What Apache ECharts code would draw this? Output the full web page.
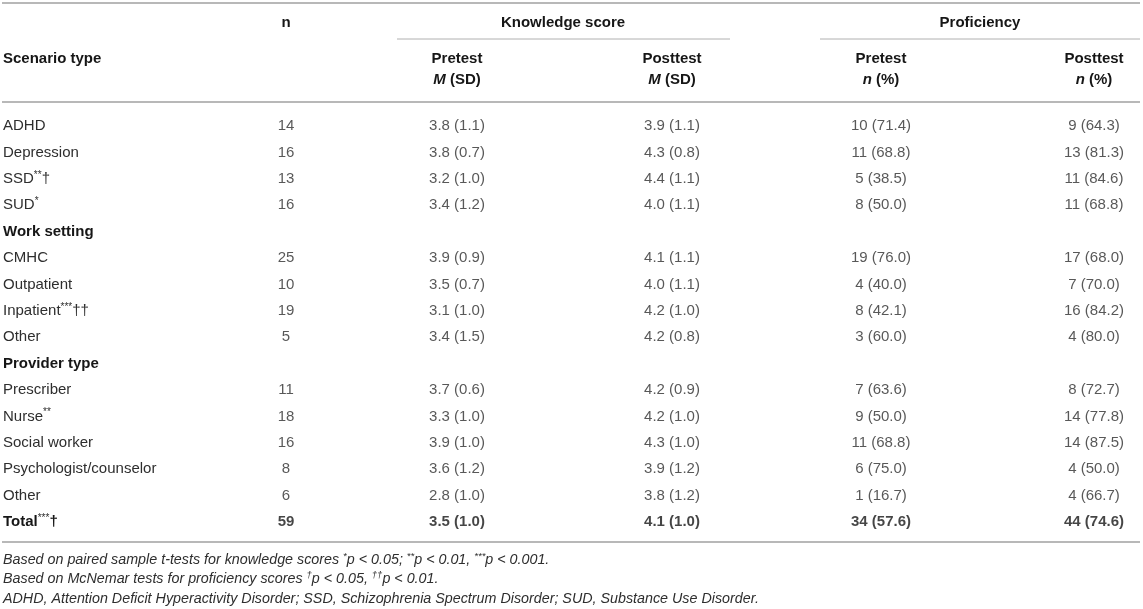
<!DOCTYPE html>
<html>
<head>
<meta charset="utf-8">
<script src="https://cdn.jsdelivr.net/npm/echarts@6/dist/echarts.min.js"></script>
<style>
html, body { margin: 0; padding: 0; background: #fff; }
#main { width: 1143px; height: 609px; }
</style>
</head>
<body>
<div id="main"></div>
<script>
// row labels (stars / daggers are the significance marks)
var rowLabels = ['ADHD', 'Depression', 'SSD**†', 'SUD*', 'Work setting', 'CMHC', 'Outpatient',
  'Inpatient***††', 'Other', 'Provider type', 'Prescriber', 'Nurse**', 'Social worker',
  'Psychologist/counselor', 'Other', 'Total***†'];
var sectionRows = [4, 9];
var totalRow = 15;

var nValues      = [14, 16, 13, 16, null, 25, 10, 19, 5, null, 11, 18, 16, 8, 6, 59];
var knowPreMean  = [3.8, 3.8, 3.2, 3.4, null, 3.9, 3.5, 3.1, 3.4, null, 3.7, 3.3, 3.9, 3.6, 2.8, 3.5];
var knowPreSD    = [1.1, 0.7, 1.0, 1.2, null, 0.9, 0.7, 1.0, 1.5, null, 0.6, 1.0, 1.0, 1.2, 1.0, 1.0];
var knowPostMean = [3.9, 4.3, 4.4, 4.0, null, 4.1, 4.0, 4.2, 4.2, null, 4.2, 4.2, 4.3, 3.9, 3.8, 4.1];
var knowPostSD   = [1.1, 0.8, 1.1, 1.1, null, 1.1, 1.1, 1.0, 0.8, null, 0.9, 1.0, 1.0, 1.2, 1.2, 1.0];
var profPreN     = [10, 11, 5, 8, null, 19, 4, 8, 3, null, 7, 9, 11, 6, 1, 34];
var profPrePct   = [71.4, 68.8, 38.5, 50.0, null, 76.0, 40.0, 42.1, 60.0, null, 63.6, 50.0, 68.8, 75.0, 16.7, 57.6];
var profPostN    = [9, 13, 11, 11, null, 17, 7, 16, 4, null, 8, 14, 14, 4, 4, 44];
var profPostPct  = [64.3, 81.3, 84.6, 68.8, null, 68.0, 70.0, 84.2, 80.0, null, 72.7, 77.8, 87.5, 50.0, 66.7, 74.6];

// layout
var colX = [286, 457, 672, 881, 1094];
var FONT = 'Liberation Sans, Arial, Helvetica, sans-serif';
var TXT = '#2e2e2e';
var BOLD = '#161616';

function cellText(c, i) {
  if (c === 0) return nValues[i] == null ? null : String(nValues[i]);
  if (c === 1) return knowPreMean[i] == null ? null : knowPreMean[i].toFixed(1) + ' (' + knowPreSD[i].toFixed(1) + ')';
  if (c === 2) return knowPostMean[i] == null ? null : knowPostMean[i].toFixed(1) + ' (' + knowPostSD[i].toFixed(1) + ')';
  if (c === 3) return profPreN[i] == null ? null : profPreN[i] + ' (' + profPrePct[i].toFixed(1) + ')';
  return profPostN[i] == null ? null : profPostN[i] + ' (' + profPostPct[i].toFixed(1) + ')';
}

var series = [];
for (var c = 0; c < colX.length; c++) {
  var pts = [];
  for (var i = 0; i < rowLabels.length; i++) {
    if (cellText(c, i) != null) pts.push([colX[c], i]);
  }
  series.push({
    type: 'scatter',
    silent: true,
    symbolSize: 1,
    itemStyle: { color: 'rgba(0,0,0,0)' },
    data: pts,
    label: {
      show: true,
      position: 'inside',
      formatter: (function (col) {
        return function (p) {
          var t = cellText(col, p.data[1]);
          return p.data[1] === totalRow ? '{b|' + t + '}' : '{r|' + t + '}';
        };
      })(c),
      rich: {
        r: { fontFamily: FONT, fontSize: 15, color: TXT },
        b: { fontFamily: FONT, fontSize: 15, fontWeight: 'bold', color: BOLD }
      }
    }
  });
}

function hline(x1, x2, y, w, col) {
  return { type: 'line', silent: true, shape: { x1: x1, y1: y, x2: x2, y2: y },
    style: { stroke: col, lineWidth: w } };
}
function htext(x, y, text, align, rich) {
  return { type: 'text', silent: true, x: x, y: y,
    style: { text: text, align: align, verticalAlign: 'middle', fontFamily: FONT,
      fontSize: 15, fontWeight: 'bold', fill: BOLD, rich: rich || {} } };
}
var hdrRich = {
  i: { fontFamily: FONT, fontSize: 15, fontWeight: 'bold', fontStyle: 'italic', fill: BOLD },
  b: { fontFamily: FONT, fontSize: 15, fontWeight: 'bold', fill: BOLD }
};
var noteRich = {
  s: { fontFamily: FONT, fontSize: 9.5, fontStyle: 'italic', fill: TXT, verticalAlign: 'top', lineHeight: 17 },
  t: { fontFamily: FONT, fontSize: 14.3, fontStyle: 'italic', fill: TXT, verticalAlign: 'middle', lineHeight: 17 }
};
function note(y, text) {
  return { type: 'text', silent: true, x: 3, y: y,
    style: { text: text, align: 'left', verticalAlign: 'middle', fontFamily: FONT,
      fontSize: 14.3, fontStyle: 'italic', fill: TXT, rich: noteRich } };
}

var chartDom = document.getElementById('main');
var myChart = echarts.init(chartDom);
var option;

option = {
  animation: false,
  grid: { left: 0, right: 0, top: 112.8, bottom: 73.8 },
  xAxis: { type: 'value', min: 0, max: 1143, show: false },
  yAxis: {
    type: 'category',
    inverse: true,
    data: rowLabels,
    axisLine: { show: false },
    axisTick: { show: false },
    splitLine: { show: false },
    axisLabel: {
      inside: true,
      margin: 3,
      interval: 0,
      formatter: function (value, idx) {
        var m = value.match(/^([^*†]+)(\*+)?(†+)?$/);
        var bold = sectionRows.indexOf(idx) >= 0 || idx === totalRow;
        var s = bold ? '{b|' + m[1] + '}' : '{r|' + m[1] + '}';
        if (m[2]) s += '{s|' + m[2] + '}';
        if (m[3]) s += (bold ? '{b|' : '{r|') + m[3] + '}';
        return s;
      },
      rich: {
        r: { fontFamily: FONT, fontSize: 15, color: TXT, lineHeight: 18, verticalAlign: 'middle' },
        b: { fontFamily: FONT, fontSize: 15, fontWeight: 'bold', color: BOLD, lineHeight: 18, verticalAlign: 'middle' },
        s: { fontFamily: FONT, fontSize: 10, color: TXT, lineHeight: 18, verticalAlign: 'top' }
      }
    }
  },
  graphic: [
    hline(2, 1140, 3, 2, '#b8b8b8'),
    hline(397, 730, 39, 1, '#b0b0b0'),
    hline(820, 1140, 39, 1, '#b0b0b0'),
    hline(2, 1140, 102, 2, '#b8b8b8'),
    hline(2, 1140, 542, 2, '#b8b8b8'),
    htext(286, 23, 'n', 'center'),
    htext(563, 23, 'Knowledge score', 'center'),
    htext(980, 23, 'Proficiency', 'center'),
    htext(3, 59, 'Scenario type', 'left'),
    htext(colX[1], 59, 'Pretest', 'center'),
    htext(colX[2], 59, 'Posttest', 'center'),
    htext(colX[3], 59, 'Pretest', 'center'),
    htext(colX[4], 59, 'Posttest', 'center'),
    htext(colX[1], 80, '{i|M} {b|(SD)}', 'center', hdrRich),
    htext(colX[2], 80, '{i|M} {b|(SD)}', 'center', hdrRich),
    htext(colX[3], 80, '{i|n} {b|(%)}', 'center', hdrRich),
    htext(colX[4], 80, '{i|n} {b|(%)}', 'center', hdrRich),
    note(560, '{t|Based on paired sample t-tests for knowledge scores }{s|*}{t|p < 0.05; }{s|**}{t|p < 0.01, }{s|***}{t|p < 0.001.}'),
    note(579, '{t|Based on McNemar tests for proficiency scores }{s|†}{t|p < 0.05, }{s|††}{t|p < 0.01.}'),
    note(599, 'ADHD, Attention Deficit Hyperactivity Disorder; SSD, Schizophrenia Spectrum Disorder; SUD, Substance Use Disorder.')
  ],
  series: series
};

option && myChart.setOption(option);
</script>
</body>
</html>
